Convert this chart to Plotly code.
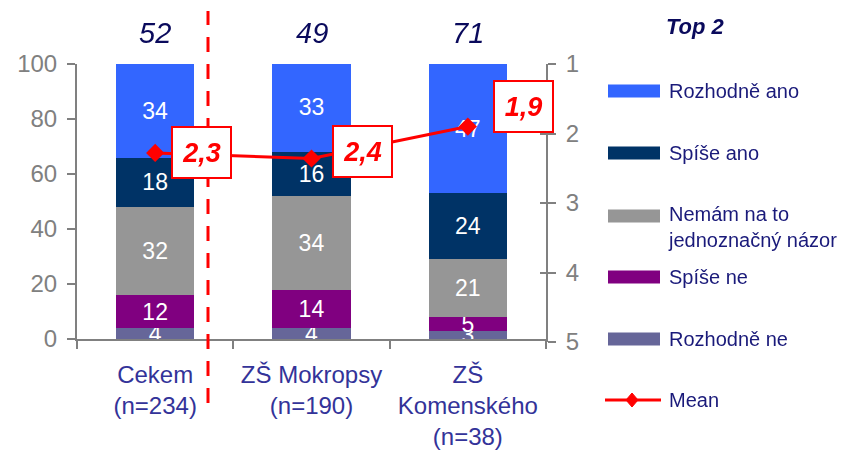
import plotly.graph_objects as go

# ---------------- data ----------------
categories = ["Cekem", "ZŠ Mokropsy", "ZŠ Komenského"]
category_labels = ["Cekem<br>(n=234)", "ZŠ Mokropsy<br>(n=190)", "ZŠ<br>Komenského<br>(n=38)"]
top2 = [52, 49, 71]

rozhodne_ne = [4, 4, 3]
spise_ne = [12, 14, 5]
nemam = [32, 34, 21]
spise_ano = [18, 16, 24]
rozhodne_ano = [34, 33, 47]

means = [2.28, 2.36, 1.9]

series_names = ["Rozhodně ne", "Spíše ne", "Nemám na to jednoznačný názor", "Spíše ano", "Rozhodně ano"]
series_values = [rozhodne_ne, spise_ne, nemam, spise_ano, rozhodne_ano]
series_colors = ["#666699", "#800080", "#969696", "#003366", "#3366FF"]

# ---------------- style / geometry helpers ----------------
FONT = "Arial, Liberation Sans, sans-serif"
GRAY = "#808080"
NAVY_TXT = "#333399"
LEG_TXT = "#1a1a7a"
DARK = "#0a0a5c"
RED = "#FF0000"
PAGE_W, PAGE_H = 848, 452
OFF = 8                              # default body margin of the html page
W, H = PAGE_W - OFF, PAGE_H - OFF
PL, PR, PT, PB = 77, 546, 64, 342   # plot area in page px


def px_x(p):
    return (p - PL) / (PR - PL)


def px_y(p):
    return (PB - p) / (PB - PT)


fig = go.Figure()

for name, vals, col in zip(series_names, series_values, series_colors):
    fig.add_trace(go.Bar(
        x=categories, y=vals, name=name, marker=dict(color=col, line=dict(width=0)),
        text=[str(v) for v in vals], textposition="inside", insidetextanchor="middle",
        textangle=0, constraintext="none",
        textfont=dict(color="white", size=23, family=FONT),
        width=0.5, showlegend=False, hoverinfo="skip",
    ))

fig.add_trace(go.Scatter(
    x=categories, y=means, yaxis="y2", mode="lines+markers", name="Mean",
    line=dict(color=RED, width=3),
    marker=dict(symbol="diamond", size=14, color=RED),
    showlegend=False, hoverinfo="skip",
))
# invisible helper trace for the inner tick stubs of the right axis
fig.add_trace(go.Scatter(
    x=categories, y=means, yaxis="y3", mode="markers", opacity=0,
    showlegend=False, hoverinfo="skip",
))

bottom_frac = (PB - 339) / (PB - PT)

fig.update_layout(
    template="none",
    width=W, height=H,
    margin=dict(l=PL - OFF, r=PAGE_W - PR, t=PT - OFF, b=PAGE_H - PB, pad=0, autoexpand=False),
    paper_bgcolor="white", plot_bgcolor="rgba(0,0,0,0)",
    barmode="stack", bargap=0.5,
    font=dict(family=FONT),
    showlegend=False,
    xaxis=dict(
        type="category", range=[-0.5, 2.5], anchor="y", automargin=False,
        tickmode="array", tickvals=categories, ticktext=category_labels,
        tickfont=dict(size=24, color=NAVY_TXT, family=FONT),
        showline=True, linecolor=GRAY, linewidth=2,
        ticks="outside", tickson="boundaries", ticklen=8, tickwidth=2, tickcolor=GRAY,
        ticklabelstandoff=13,
        showgrid=False, zeroline=False,
    ),
    yaxis=dict(
        domain=[bottom_frac, 1], range=[0, 100], tickvals=[0, 20, 40, 60, 80, 100],
        automargin=False,
        tickfont=dict(size=24, color=GRAY, family=FONT),
        showline=True, linecolor=GRAY, linewidth=2,
        ticks="outside", ticklen=8, tickwidth=2, tickcolor=GRAY,
        ticklabelstandoff=5,
        showgrid=False, zeroline=False,
    ),
    yaxis2=dict(
        domain=[0, 1], range=[5, 1], anchor="x", side="right", automargin=False,
        tickvals=[1, 2, 3, 4, 5],
        tickfont=dict(size=24, color=GRAY, family=FONT),
        showline=True, linecolor=GRAY, linewidth=2,
        ticks="outside", ticklen=8, tickwidth=2, tickcolor=GRAY,
        ticklabelstandoff=5,
        showgrid=False, zeroline=False,
    ),
    yaxis3=dict(
        overlaying="y2", range=[5, 1], anchor="x", side="right", automargin=False,
        tickvals=[1, 2, 3, 4, 5], showticklabels=False,
        ticks="inside", ticklen=6, tickwidth=2, tickcolor=GRAY,
        showline=False, showgrid=False, zeroline=False,
    ),
)

shapes = []
annotations = []

# dashed separator between total and schools
shapes.append(dict(type="line", xref="paper", yref="paper",
                   x0=px_x(208), x1=px_x(208), y0=px_y(403), y1=px_y(11),
                   line=dict(color=RED, width=3, dash="15px,12px")))

# top-2 totals above the bars
for cat, v in zip(categories, top2):
    annotations.append(dict(x=cat, xref="x", y=px_y(33), yref="paper",
                            text=str(v), showarrow=False, xanchor="center", yanchor="middle",
                            font=dict(size=29, color=DARK, family=FONT, style="italic")))

annotations.append(dict(x=px_x(695), y=px_y(27), xref="paper", yref="paper",
                        text="<b><i>Top 2</i></b>", showarrow=False,
                        xanchor="center", yanchor="middle",
                        font=dict(size=22, color=DARK, family=FONT)))

# mean value boxes
label_shift = [(46, 0), (51, 7), (56, 20)]
for cat, m, (dx, dy) in zip(categories, means, label_shift):
    annotations.append(dict(
        x=cat, xref="x", y=m, yref="y2", xshift=dx, yshift=dy,
        text="<b><i>" + f"{m:.1f}".replace(".", ",") + "</i></b>",
        showarrow=False, xanchor="center", yanchor="middle",
        width=57, height=49, align="center", valign="middle",
        bgcolor="white", bordercolor=RED, borderwidth=2, borderpad=0,
        font=dict(size=27, color=RED, family=FONT)))

# custom legend
legend_items = [
    ("Rozhodně ano", "#3366FF", 91),
    ("Spíše ano", "#003366", 153),
    ("Nemám na to<br>jednoznačný názor", "#969696", 216),
    ("Spíše ne", "#800080", 277),
    ("Rozhodně ne", "#666699", 339),
]
for label, col, yc in legend_items:
    shapes.append(dict(type="rect", xref="paper", yref="paper",
                       x0=px_x(608), x1=px_x(660), y0=px_y(yc + 6.5), y1=px_y(yc - 6.5),
                       fillcolor=col, line=dict(width=0)))
    if "<br>" in label:
        annotations.append(dict(x=px_x(667), y=px_y(yc - 14), xref="paper", yref="paper",
                                text=label, showarrow=False, xanchor="left", yanchor="top",
                                align="left", borderpad=0,
                                font=dict(size=20, color=LEG_TXT, family=FONT)))
    else:
        annotations.append(dict(x=px_x(667), y=px_y(yc), xref="paper", yref="paper",
                                text=label, showarrow=False, xanchor="left", yanchor="middle",
                                align="left",
                                font=dict(size=20, color=LEG_TXT, family=FONT)))

ym = 400
shapes.append(dict(type="line", xref="paper", yref="paper",
                   x0=px_x(605), x1=px_x(661), y0=px_y(ym), y1=px_y(ym),
                   line=dict(color=RED, width=3)))
cx = 632
diamond = "M {a},{b} L {c},{d} L {e},{f} L {g},{h} Z".format(
    a=px_x(cx - 6), b=px_y(ym), c=px_x(cx), d=px_y(ym - 7),
    e=px_x(cx + 6), f=px_y(ym), g=px_x(cx), h=px_y(ym + 7))
shapes.append(dict(type="path", xref="paper", yref="paper", path=diamond,
                   fillcolor=RED, line=dict(color=RED, width=1)))
annotations.append(dict(x=px_x(667), y=px_y(ym), xref="paper", yref="paper",
                        text="Mean", showarrow=False, xanchor="left", yanchor="middle",
                        font=dict(size=20, color=LEG_TXT, family=FONT)))

fig.update_layout(shapes=shapes, annotations=annotations)

fig.write_html("out.html")
